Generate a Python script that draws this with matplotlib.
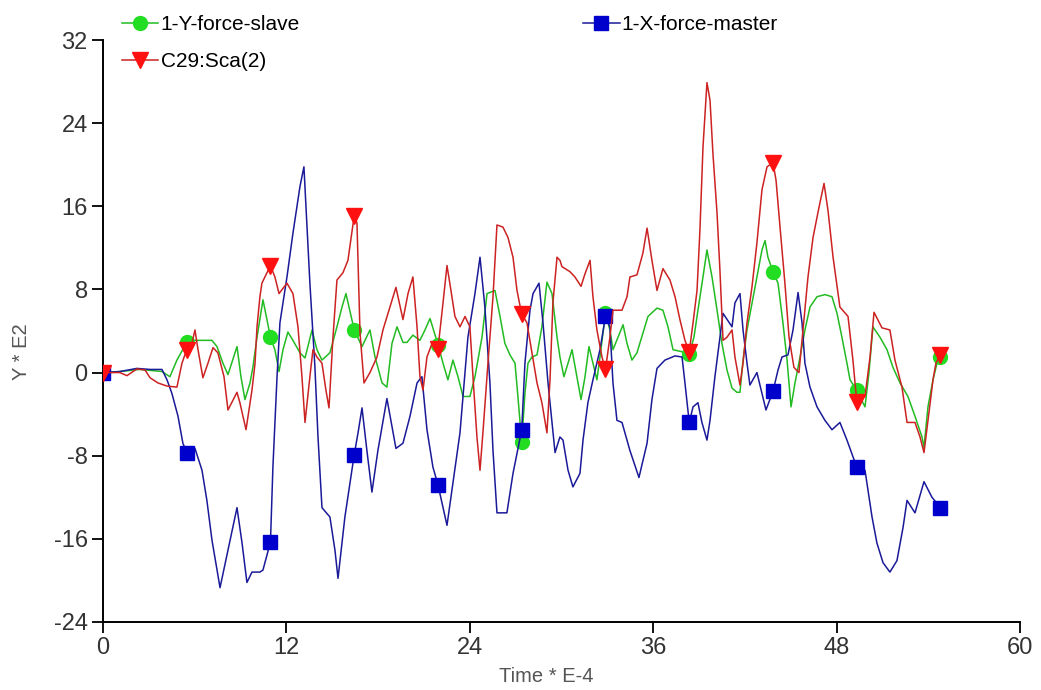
import matplotlib

matplotlib.use("Agg")

import matplotlib.pyplot as plt

plt.rcParams["font.family"] = ["Liberation Sans", "DejaVu Sans"]
plt.rcParams["axes.unicode_minus"] = False

# marker positions shared by all three traces
MARK_T = [0, 5.48, 10.96, 16.44, 21.92, 27.40, 32.88, 38.36, 43.84, 49.32, 54.80]

# 1-X-force-master
MASTER_T = [
    0, 1.11, 2.22, 3.08, 3.86, 4.19, 4.51, 4.91, 5.23, 5.48, 6.02, 6.48, 6.80,
    7.13, 7.66, 8.18, 8.77, 9.10, 9.42, 9.75, 10.27, 10.47, 10.96, 11.12, 11.39,
    11.58, 12.04, 12.43, 12.89, 13.15, 13.54, 13.87, 14.07, 14.33, 14.85, 15.18,
    15.38, 15.83, 16.44, 16.69, 16.95, 17.27, 17.60, 17.99, 18.58, 19.17, 19.63,
    20.09, 20.55, 20.87, 21.20, 21.59, 21.92, 22.51, 22.90, 23.36, 23.88, 24.34,
    24.67, 24.99, 25.32, 25.52, 25.78, 26.43, 26.83, 27.40, 27.61, 27.94, 28.14,
    28.53, 28.79, 29.12, 29.58, 29.90, 30.10, 30.43, 30.75, 31.21, 31.41, 31.73,
    32.06, 32.52, 32.88, 33.17, 33.37, 33.63, 33.96, 34.48, 35.07, 35.60, 35.92,
    36.25, 36.77, 37.43, 37.89, 38.08, 38.36, 38.61, 38.93, 39.19, 39.52, 39.72,
    40.04, 40.37, 40.57, 41.16, 41.35, 41.68, 41.88, 42.14, 42.33, 42.79, 43.12,
    43.38, 43.84, 44.17, 44.43, 44.82, 45.15, 45.48, 45.74, 45.93, 46.26, 46.72,
    47.24, 47.70, 48.22, 48.68, 49.32, 49.86, 50.32, 50.64, 51.04, 51.49, 51.95,
    52.35, 52.61, 53.13, 53.72, 54.24, 54.80,
]
MASTER_Y = [
    0, 0.1, 0.4, 0.3, 0.3, -0.7, -2.0, -4.2, -6.8, -7.7, -7.3, -9.4, -12.3,
    -16.1, -20.7, -17.1, -13.0, -16.4, -20.2, -19.2, -19.2, -19.0, -16.3, -9.1, -0.4,
    4.8, 9.2, 13.4, 17.9, 19.8, 8.6, 0.5, -6.2, -13.0, -13.9, -17.1,
    -19.8, -13.9, -7.9, -5.8, -3.4, -7.5, -11.5, -7.5, -2.5, -7.3, -6.8,
    -4.2, -1.0, -0.4, -5.5, -9.1, -10.8, -14.7, -10.6, -5.8, 3.4, 7.6,
    11.1, 6.3, -1.0, -7.5, -13.5, -13.5, -9.7, -5.5, 0.9, 6.0, 7.6,
    8.6, 4.8, -1.0, -7.7, -6.2, -6.5, -9.4, -11.0, -9.7, -6.5, -2.9,
    -0.7, 2.2, 5.4, 4.4, -1.0, -4.6, -4.8, -7.5, -10.1, -6.8, -2.6,
    0.4, 1.2, 1.6, 1.5, -1.0, -4.8, -3.3, -2.9, -4.8, -6.5, -4.6,
    -0.4, 3.4, 5.7, 4.4, 6.7, 7.6, 4.1, 0.9, -1.2, 0.0, -2.0,
    -3.6, -1.8, 0.25, 1.5, 1.7, 4.1, 7.7, 4.8, 0.9, -1.4, -3.3,
    -4.6, -5.5, -4.8, -6.5, -9.1, -9.4, -13.9, -16.4, -18.3, -19.2, -18.1,
    -14.9, -12.3, -13.5, -10.5, -12.0, -13.0,
]

# C29:Sca(2)
SCA_T = [
    0, 1.11, 1.57, 2.22, 2.75, 3.08, 3.60, 4.19, 4.84, 5.17, 5.48, 5.82, 6.02,
    6.22, 6.54, 6.87, 7.20, 7.52, 7.92, 8.18, 8.77, 8.96, 9.36, 9.75, 9.95, 10.08,
    10.27, 10.40, 10.96, 11.25, 11.52, 12.04, 12.43, 12.76, 13.02, 13.22, 13.54,
    13.74, 14.00, 14.33, 14.59, 14.79, 15.05, 15.31, 15.70, 16.03, 16.44, 16.62,
    16.82, 17.08, 17.47, 17.93, 18.32, 18.78, 19.17, 19.63, 19.96, 20.28, 20.55,
    20.74, 20.94, 21.20, 21.53, 21.92, 22.25, 22.51, 22.77, 23.03, 23.36, 23.69,
    24.01, 24.21, 24.47, 24.67, 24.86, 25.19, 25.52, 25.78, 26.17, 26.50, 26.83,
    27.09, 27.40, 27.74, 28.07, 28.40, 28.72, 29.05, 29.25, 29.44, 29.71, 29.90,
    30.03, 30.56, 30.88, 31.28, 31.54, 31.87, 32.06, 32.32, 32.65, 32.88, 33.17,
    33.37, 33.96, 34.29, 34.48, 34.94, 35.33, 35.60, 35.92, 36.25, 36.64, 37.10,
    37.43, 37.75, 38.08, 38.36, 38.61, 38.87, 39.06, 39.26, 39.52, 39.72, 39.91,
    40.18, 40.37, 40.57, 40.83, 41.16, 41.35, 41.68, 41.88, 42.14, 42.47, 42.79,
    43.12, 43.45, 43.84, 44.04, 44.30, 44.62, 44.89, 45.21, 45.54, 45.80, 46.13,
    46.46, 46.85, 47.18, 47.44, 47.77, 48.22, 48.75, 49.07, 49.32, 49.86, 50.19,
    50.45, 50.97, 51.49, 51.82, 52.28, 52.61, 53.13, 53.46, 53.72, 53.98, 54.31,
    54.50, 54.80,
]
SCA_Y = [
    0, 0.0, -0.3, 0.35, 0.25, -0.5, -1.0, -1.3, -1.4, 0.9, 2.2, 2.8, 4.1,
    2.2, -0.5, 0.9, 2.4, 1.9, -0.4, -3.6, -1.9, -2.9, -5.5, -1.7, 0.9, 4.4,
    7.3, 8.6, 10.3, 9.2, 7.6, 8.6, 7.6, 4.4, -0.4, -4.8, -0.4,
    2.2, 1.5, 0.9, -1.7, -3.4, 3.4, 8.9, 9.6, 10.8, 15.1, 14.4,
    3.8, -1.0, 0.0, 1.5, 4.1, 6.3, 8.2, 5.1, 7.6, 9.2, 4.4,
    -0.4, -1.7, 1.5, 2.8, 2.3, 6.7, 10.3, 7.9, 5.4, 4.4, 5.4,
    4.4, -0.4, -6.2, -9.4, -5.8, 0.9, 7.3, 14.2, 14.0, 13.0, 11.1,
    7.9, 5.6, 4.8, 1.9, -1.0, -2.9, -5.8, -0.7, 6.7, 11.1, 10.8,
    10.2, 9.7, 9.2, 8.3, 9.5, 10.8, 7.3, 4.1, 1.5, 0.3, 3.4,
    6.0, 6.0, 7.3, 9.2, 9.4, 11.5, 13.9, 10.8, 7.9, 10.0, 8.9,
    7.3, 5.1, 3.1, 2.0, 4.8, 7.9, 13.7, 21.7, 27.9, 26.2, 21.1,
    15.3, 9.8, 3.1, 3.4, 4.1, 1.5, -1.2, 0.9, 4.8, 8.3, 12.5,
    17.6, 19.8, 20.2, 18.5, 14.0, 8.6, 3.4, 0.5, 0.0, 4.1, 9.2,
    13.0, 15.9, 18.2, 15.6, 11.1, 6.3, 5.4, 1.2, -2.8, -2.3, 1.5,
    5.8, 4.3, 4.1, 1.2, -1.4, -4.8, -4.8, -6.2, -7.7, -4.6, -0.7,
    0.9, 1.7,
]

# 1-Y-force-slave
SLAVE_T = [
    0, 1.11, 2.42, 3.86, 4.38, 4.84, 5.48, 5.89, 7.13, 7.46, 7.85, 8.18, 8.77,
    9.03, 9.29, 9.62, 9.81, 10.08, 10.47, 10.96, 11.25, 11.52, 11.78, 12.10, 12.43,
    12.89, 13.22, 13.68, 14.00, 14.33, 14.85, 15.31, 15.64, 15.90, 16.44, 16.95,
    17.47, 17.80, 17.99, 18.26, 18.58, 18.91, 19.24, 19.63, 19.89, 20.28, 20.74,
    21.07, 21.40, 21.92, 22.25, 22.57, 22.90, 23.23, 23.56, 24.01, 24.34, 24.80,
    25.13, 25.65, 25.98, 26.30, 26.63, 26.96, 27.15, 27.40, 27.61, 27.81, 28.07,
    28.40, 28.72, 29.05, 29.38, 29.71, 29.90, 30.16, 30.43, 30.69, 31.01, 31.28,
    31.54, 31.80, 32.06, 32.32, 32.52, 32.88, 33.17, 33.37, 33.70, 34.03, 34.29,
    34.61, 34.94, 35.33, 35.66, 36.25, 36.64, 36.97, 37.30, 37.89, 38.36, 38.67,
    38.93, 39.26, 39.52, 39.85, 40.18, 40.50, 40.83, 41.16, 41.48, 41.68, 41.88,
    42.14, 42.47, 42.79, 43.12, 43.32, 43.51, 43.84, 44.17, 44.49, 44.76, 45.02,
    45.28, 45.61, 45.93, 46.26, 46.72, 47.24, 47.70, 48.03, 48.35, 48.68, 48.88,
    49.32, 49.86, 50.12, 50.38, 50.84, 51.30, 51.69, 52.15, 52.67, 53.13, 53.59,
    53.72, 53.98, 54.31, 54.57, 54.80,
]
SLAVE_Y = [
    0, 0.1, 0.3, 0.1, -0.4, 1.2, 2.9, 3.1, 3.1, 2.5, 0.9, -0.2, 2.5,
    -0.4, -2.6, -1.0, 0.5, 3.4, 7.0, 3.4, 2.2, 0.1, 2.2, 3.9, 3.1,
    1.9, 1.4, 4.1, 2.2, 1.2, 1.9, 4.4, 6.3, 7.6, 4.1, 2.5,
    4.1, 1.5, 0.5, -1.0, -1.4, 2.8, 4.4, 2.9, 2.9, 3.6, 3.1,
    4.1, 5.2, 2.7, 0.9, -0.7, 1.2, -0.4, -2.3, -2.3, -0.4, 3.4,
    7.6, 7.9, 5.4, 2.8, 1.7, 0.9, -2.3, -6.7, -2.0, 0.9, 1.5,
    1.7, 4.4, 8.7, 7.6, 3.4, 1.5, -0.4, 0.9, 2.2, -0.4, -2.6,
    -0.4, 2.5, 0.9, -0.7, 1.5, 5.7, 4.1, 2.2, 3.4, 4.6, 2.8,
    1.2, 1.9, 3.8, 5.4, 6.2, 6.0, 4.4, 2.2, 2.0, 1.8, 3.4,
    6.0, 9.2, 11.8, 9.2, 6.0, 2.8, 0.25, -1.5, -1.9, -1.9, 1.2,
    4.1, 6.7, 9.2, 11.8, 12.7, 11.1, 9.7, 8.6, 4.8, 1.2, -3.3,
    -1.0, 1.5, 4.1, 6.3, 7.3, 7.5, 7.3, 5.7, 3.4, 0.9, -0.7,
    -1.7, -3.3, 0.0, 4.4, 3.4, 2.2, 0.5, -1.0, -2.3, -4.2, -6.2,
    -7.2, -3.3, -0.7, 0.9, 1.5,
]


def mark_idx(times):
    marks = {round(t, 2) for t in MARK_T}
    return [i for i, t in enumerate(times) if round(t, 2) in marks]


fig = plt.figure(figsize=(10.41, 6.9), dpi=100)
ax = fig.add_axes([0.0989, 0.0986, 0.8809, 0.8434])

l_slave, = ax.plot(SLAVE_T, SLAVE_Y, color="#22bb22", lw=1.1, marker="o",
                   markersize=10, markerfacecolor="#22dd22", markeredgecolor="#22dd22",
                   markevery=mark_idx(SLAVE_T), label="1-Y-force-slave", zorder=2)
l_master, = ax.plot(MASTER_T, MASTER_Y, color="#1a1a99", lw=1.1, marker="s",
                    markersize=10, markerfacecolor="#0000cc", markeredgecolor="#0000cc",
                    markevery=mark_idx(MASTER_T), label="1-X-force-master", zorder=3)
l_sca, = ax.plot(SCA_T, SCA_Y, color="#cc2222", lw=1.1, marker="v",
                 markersize=11, markerfacecolor="#ff1111", markeredgecolor="#ff1111",
                 markevery=mark_idx(SCA_T), label="C29:Sca(2)", zorder=4)

ax.set_xlim(0, 60)
ax.set_ylim(-24, 32)
ax.set_xticks(range(0, 61, 12))
ax.set_yticks(range(-24, 33, 8))
for side in ("top", "right"):
    ax.spines[side].set_visible(False)
for side in ("left", "bottom"):
    ax.spines[side].set_linewidth(1.4)
ax.tick_params(direction="out", length=8, width=1.4, labelsize=17, colors="#111111",
               labelcolor="#333333", pad=3)

ax.set_xlabel("Time * E-4", fontsize=14.5, color="#555555")
ax.set_ylabel("Y * E2", fontsize=14.5, color="#555555")
ax.xaxis.set_label_coords(0.483, -0.078)
ax.yaxis.set_label_coords(-0.079, 0.465)

fig.legend(handles=[l_slave, l_sca, l_master], loc="upper left",
           bbox_to_anchor=(0.1092, 0.99), ncol=2, frameon=False, fontsize=15,
           handlelength=1.75, handletextpad=0.1, labelspacing=0.85,
           columnspacing=13.6, borderaxespad=0)

fig.savefig("out.png", dpi=100)
